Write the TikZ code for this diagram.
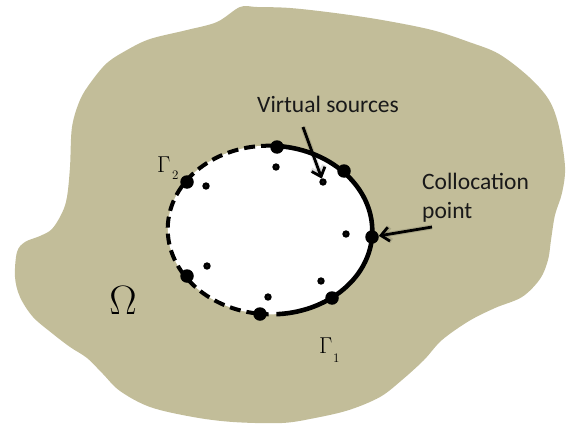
\RequirePackage{fix-cm}
\documentclass[tikz,border=0pt]{standalone}
\usepackage{fontspec}
\newfontfamily\carlito{Carlito}
\usetikzlibrary{arrows.meta}
\definecolor{blobfill}{RGB}{194,189,153}
\begin{document}
\begin{tikzpicture}[x=1pt,y=-1pt,
  bigdot/.style={circle,fill=black,inner sep=0pt,minimum size=13.5pt},
  srcdot/.style={circle,draw=black,fill=gray!60,line width=3pt,inner sep=0pt,minimum size=4.2pt},
  lbl/.style={font=\carlito\fontsize{23.5}{29}\selectfont,inner sep=0pt,text=black!90},
  gam/.style={font=\fontsize{23}{26}\selectfont,inner sep=0pt},
  gsub/.style={font=\fontsize{13}{15}\selectfont,inner sep=0pt},
  ptr/.style={line width=2.8pt,-{Straight Barb[length=8pt,width=14pt]}},
  ptrshadow/.style={line width=5pt,draw=black,opacity=0.12,-{Straight Barb[length=8pt,width=14pt]}},
  solidb/.style={line width=4.6pt},
  dashb/.style={line width=4pt,dash pattern=on 11pt off 6pt},
]
\useasboundingbox (0,0) rectangle (572,425);
% domain
\fill[blobfill] plot[smooth cycle,tension=0.55] coordinates {
 (240,7) (257,7) (290,8) (335,13) (382,20) (432,30) (469,42) (499,54)
 (529,77) (549,100) (559,127) (565,167) (562,193) (555,215) (551,240)
 (548,260) (540,279) (522,297) (495,308) (469,321) (442,340) (424,360)
 (402,380) (380,397) (349,410) (315,418) (282,423) (233,422) (193,417)
 (150,407) (120,391) (103,374) (87,358) (70,347) (53,334) (33,317)
 (20,297) (15,277) (17,252) (25,242) (40,236) (52,229) (62,213) (67,197)
 (70,167) (72,127) (80,100) (91,82) (107,63) (127,50) (150,39) (187,30) (217,22)};
% hole
\begin{scope}[shift={(270,230)},cm={1,-0.07,0.09,1,(0,0)}]
  \fill[white] (0,0) ellipse [x radius=102,y radius=84];
  \begin{scope}
    \clip[cm={1,0.07,-0.09,1,(0,0)}] (7,-300) -- (302,-300) -- (302,200) -- (6,200) -- cycle;
    \draw[solidb] (0,0) ellipse [x radius=102,y radius=84];
  \end{scope}
  \begin{scope}
    \clip[cm={1,0.07,-0.09,1,(0,0)}] (7,-300) -- (-300,-300) -- (-300,200) -- (-4,200) -- cycle;
    \draw[dashb] (0,0) ellipse [x radius=102,y radius=84];
  \end{scope}
\end{scope}
% collocation points
\node[bigdot] (c1) at (277,147) {};
\node[bigdot] (c2) at (344,171) {};
\node[bigdot] (c3) at (372,237) {};
\node[bigdot] (c4) at (332,298) {};
\node[bigdot] (c5) at (260,314) {};
\node[bigdot] (c6) at (187,276) {};
\node[bigdot] (c7) at (187,182) {};
% virtual sources
\node[srcdot] (s1) at (276,167) {};
\node[srcdot] (s2) at (323,182) {};
\node[srcdot] (s3) at (346,234) {};
\node[srcdot] (s4) at (321,281) {};
\node[srcdot] (s5) at (268,297) {};
\node[srcdot] (s6) at (207,266) {};
\node[srcdot] (s7) at (206,186) {};
% labels
\node[lbl,anchor=base west] (vs) at (257,112) {Virtual sources};
\node[lbl,anchor=base west,align=left] (cp) at (422,218) {Collocation\\point};
\node[gam,anchor=base west] (g2) at (157,172) {$\Gamma$};
\node[gsub,anchor=base west] (g2s) at (172,179.5) {2};
\node[gam,anchor=base west] (g1) at (319,353) {$\Gamma$};
\node[gsub,anchor=base west] (g1s) at (333,362) {1};
\node[font=\fontsize{41}{46}\selectfont,inner sep=0pt,anchor=base] (om) at (123,314) {$\Omega$};
% pointers
\coordinate (vtail) at (303,127);
\coordinate (ctail) at (432,227);
\begin{scope}[shift={(2,3)}]
  \draw[ptrshadow] (vtail) -- (s2);
  \draw[ptrshadow] (ctail) -- (c3);
\end{scope}
\draw[ptr] (vtail) -- (s2);
\draw[ptr] (ctail) -- (c3);
\end{tikzpicture}
\end{document}
